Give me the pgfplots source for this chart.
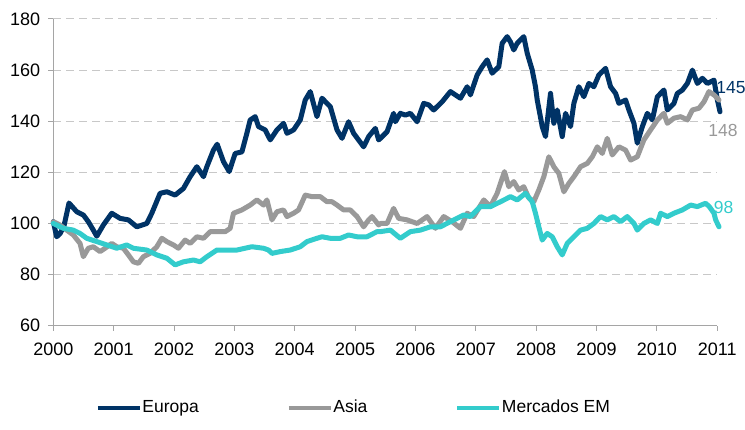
\documentclass[border=0pt]{standalone}
\usepackage{fontspec}
\setmainfont{Liberation Sans}
\usepackage{pgfplots}
\pgfplotsset{compat=1.18}
\definecolor{navy}{RGB}{0,51,102}
\definecolor{grisA}{RGB}{153,153,153}
\definecolor{tealEM}{RGB}{51,204,204}
\definecolor{gridc}{RGB}{200,200,200}
\definecolor{axc}{RGB}{165,165,165}
\begin{document}
\fontsize{17.5}{21}\selectfont
\begin{tikzpicture}
\begin{axis}[
  scale only axis, width=664pt, height=306.7pt,
  at={(0pt,0pt)}, anchor=south west,
  xmin=2000, xmax=2011, ymin=60, ymax=180,
  ytick={60,80,...,180}, xtick={2000,...,2011},
  axis lines*=left,
  axis line style={axc, line width=1pt},
  tick style={axc, line width=1pt}, major tick length=5pt, tick align=outside,
  ymajorgrids, grid style={gridc, dash pattern=on 8pt off 5pt, line width=1pt},
  /pgf/number format/assume math mode=true,
  xticklabel style={/pgf/number format/1000 sep={}, anchor=north, inner sep=0pt, yshift=-12pt},
  yticklabel style={anchor=east, inner sep=0pt, xshift=-8pt},
  tick label style={font=\fontsize{18}{21}\selectfont, text=black},
  clip=false,
  legend style={at={(axis description cs:0.064,-0.268)}, anchor=west, draw=none, fill=none,
    inner sep=0pt, nodes={inner sep=0pt}, font=\fontsize{17.5}{21}\selectfont,
    /tikz/every even column/.append style={column sep=88pt},
    /tikz/every odd column/.append style={column sep=0.5pt}},
  legend columns=3, legend cell align=left,
  legend image code/.code={\draw[#1, line width=4pt, line cap=butt] (0pt,0pt) -- (42pt,0pt);},
  every axis plot/.append style={line width=5pt, line join=round, line cap=round},
]
\node[anchor=west, inner sep=0pt, text=tealEM] at (axis cs:2010.94,106.3) {98};
\node[anchor=west, inner sep=0pt, text=navy] at (axis cs:2010.98,153.3) {145};
\node[anchor=west, inner sep=0pt, text=grisA] at (axis cs:2010.85,136.5) {148};
\addplot[navy] table {
2000.000 100.7
2000.056 94.8
2000.111 96.0
2000.177 99.0
2000.260 108.0
2000.388 104.6
2000.498 103.3
2000.580 100.7
2000.663 97.4
2000.720 95.0
2000.829 99.4
2000.968 104.0
2001.106 102.0
2001.244 101.4
2001.383 98.7
2001.549 100.0
2001.632 104.0
2001.769 111.8
2001.881 112.4
2002.018 111.1
2002.156 113.7
2002.267 118.3
2002.378 122.2
2002.488 118.3
2002.544 122.2
2002.653 128.7
2002.715 131.0
2002.819 124.2
2002.914 120.3
2003.013 127.4
2003.124 128.0
2003.207 135.3
2003.262 140.5
2003.345 141.8
2003.400 137.9
2003.511 136.6
2003.594 132.7
2003.705 136.6
2003.814 139.2
2003.871 135.3
2003.980 136.6
2004.091 140.5
2004.174 148.3
2004.257 151.6
2004.368 141.8
2004.451 149.0
2004.589 145.7
2004.700 136.6
2004.783 133.3
2004.892 139.8
2004.975 135.3
2005.141 130.0
2005.224 134.0
2005.335 137.2
2005.390 132.7
2005.419 133.3
2005.529 135.9
2005.638 143.1
2005.667 139.8
2005.749 143.1
2005.832 142.4
2005.915 143.1
2006.027 139.8
2006.136 147.0
2006.219 146.4
2006.302 144.4
2006.441 147.6
2006.579 151.6
2006.662 150.3
2006.745 149.0
2006.856 153.5
2006.910 150.3
2007.022 158.1
2007.104 161.3
2007.187 164.0
2007.270 158.8
2007.380 161.3
2007.436 170.5
2007.519 173.1
2007.574 171.0
2007.628 167.9
2007.685 170.5
2007.794 173.1
2007.851 166.6
2007.934 160.0
2007.988 153.5
2008.017 148.3
2008.100 137.9
2008.154 134.0
2008.237 150.9
2008.292 139.2
2008.348 144.4
2008.431 134.0
2008.486 143.1
2008.569 137.9
2008.624 147.0
2008.706 153.5
2008.789 149.6
2008.872 154.8
2008.955 153.5
2009.038 158.1
2009.149 160.7
2009.232 153.5
2009.315 150.9
2009.370 147.0
2009.481 148.3
2009.536 144.4
2009.619 139.2
2009.675 131.4
2009.758 137.9
2009.841 143.1
2009.924 140.5
2010.007 149.6
2010.116 152.2
2010.172 144.4
2010.282 147.0
2010.338 150.9
2010.421 152.2
2010.504 154.8
2010.587 160.0
2010.670 154.8
2010.753 156.8
2010.836 154.8
2010.945 156.1
2011.002 148.3
2011.045 143.7
};
\addlegendentry{Europa}
\addplot[grisA] table {
2000.000 100.7
2000.111 99.4
2000.222 97.4
2000.332 95.5
2000.443 92.2
2000.498 87.0
2000.580 90.3
2000.663 90.9
2000.774 89.0
2000.857 90.3
2000.968 92.2
2001.051 90.9
2001.161 90.3
2001.244 87.7
2001.327 85.0
2001.410 84.4
2001.493 87.0
2001.604 88.3
2001.715 90.9
2001.798 94.2
2001.881 92.9
2001.990 91.6
2002.073 90.3
2002.184 93.5
2002.267 92.2
2002.378 94.8
2002.488 94.2
2002.600 96.8
2002.710 96.8
2002.848 96.8
2002.930 98.1
2002.985 104.0
2003.124 105.3
2003.262 107.2
2003.373 109.2
2003.483 107.2
2003.539 109.2
2003.622 101.4
2003.705 104.6
2003.814 105.3
2003.871 102.7
2003.980 104.0
2004.063 105.3
2004.174 111.1
2004.285 110.5
2004.423 110.5
2004.534 108.5
2004.617 108.5
2004.700 107.2
2004.809 105.3
2004.920 105.3
2005.032 102.7
2005.141 98.7
2005.224 101.4
2005.280 102.7
2005.390 99.4
2005.419 100.0
2005.529 100.0
2005.638 105.9
2005.721 102.0
2005.861 101.4
2006.027 100.0
2006.192 102.7
2006.330 98.1
2006.468 102.7
2006.607 100.7
2006.745 98.1
2006.856 104.0
2006.965 102.7
2007.131 109.2
2007.242 106.6
2007.353 111.8
2007.474 120.3
2007.546 114.4
2007.628 116.4
2007.711 113.1
2007.794 114.4
2007.877 110.0
2007.960 108.5
2008.043 113.1
2008.126 118.3
2008.209 126.1
2008.292 122.2
2008.375 119.6
2008.458 112.4
2008.541 115.7
2008.624 118.3
2008.735 122.2
2008.846 123.5
2008.929 126.1
2009.012 130.0
2009.095 127.4
2009.177 133.3
2009.260 126.8
2009.370 130.0
2009.481 128.7
2009.564 124.8
2009.675 126.1
2009.784 132.7
2009.895 136.6
2010.007 140.5
2010.116 143.1
2010.172 139.2
2010.282 141.2
2010.393 141.8
2010.504 140.5
2010.587 144.4
2010.697 145.1
2010.779 147.6
2010.862 151.6
2010.945 150.3
2011.028 148.3
};
\addlegendentry{Asia}
\addplot[tealEM] table {
2000.000 100.0
2000.166 98.1
2000.332 97.4
2000.443 96.1
2000.554 94.2
2000.720 92.9
2000.886 91.6
2001.051 90.3
2001.217 91.6
2001.327 90.3
2001.549 89.6
2001.715 87.7
2001.881 86.4
2002.018 83.8
2002.156 85.0
2002.322 85.7
2002.433 85.0
2002.544 87.0
2002.710 89.6
2002.876 89.6
2003.041 89.6
2003.290 90.9
2003.483 90.3
2003.566 89.6
2003.622 88.3
2003.760 89.0
2003.925 89.6
2004.091 90.9
2004.202 92.9
2004.368 94.2
2004.451 94.8
2004.589 94.2
2004.755 94.2
2004.892 95.5
2005.032 94.8
2005.197 94.8
2005.363 96.8
2005.419 96.8
2005.584 97.4
2005.749 94.2
2005.915 96.8
2006.081 97.4
2006.247 98.7
2006.413 98.7
2006.579 100.7
2006.799 103.3
2006.910 102.7
2007.076 106.6
2007.242 106.6
2007.408 108.5
2007.574 110.5
2007.685 109.2
2007.822 111.8
2007.934 108.5
2007.988 104.0
2008.043 98.7
2008.100 93.5
2008.182 96.1
2008.265 94.8
2008.348 90.9
2008.431 87.7
2008.514 92.2
2008.624 94.8
2008.735 97.4
2008.846 98.1
2008.955 100.0
2009.066 102.7
2009.177 101.4
2009.287 102.7
2009.398 100.7
2009.508 102.7
2009.619 100.0
2009.675 97.4
2009.784 100.0
2009.895 101.4
2010.007 100.0
2010.061 104.0
2010.172 102.7
2010.282 104.0
2010.421 105.3
2010.559 107.2
2010.670 106.6
2010.806 107.9
2010.867 106.6
2010.945 104.0
2010.973 101.4
2011.028 98.7
};
\addlegendentry{Mercados EM}
\end{axis}
\pgfresetboundingbox
\useasboundingbox (-53.3pt,-103.3pt) rectangle (691.7pt,325.7pt);
\end{tikzpicture}
\end{document}
